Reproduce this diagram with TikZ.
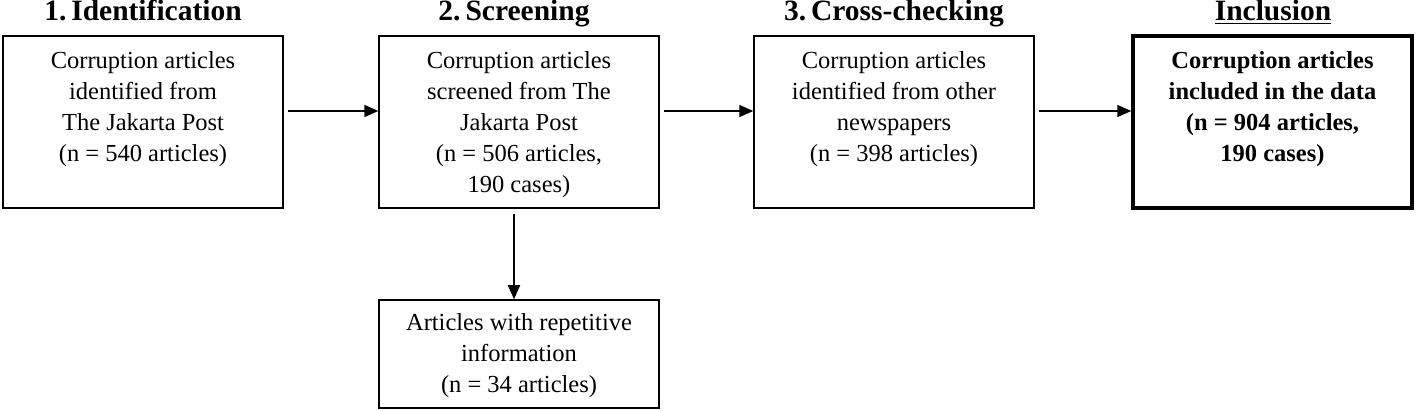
\documentclass[tikz,border=0pt]{standalone}
\usepackage{fontspec}
\setmainfont{Liberation Serif}
\usetikzlibrary{arrows.meta}
\begin{document}
\begin{tikzpicture}[x=1pt,y=-1pt,
  box/.style={draw, line width=1.5pt, minimum width=280pt, minimum height=172pt, inner sep=0pt},
  txt/.style={anchor=north, align=center, inner sep=0pt, font=\fontsize{24.5}{31}\selectfont},
  title/.style={anchor=base, inner sep=0pt, font=\fontsize{29.5}{32}\selectfont\bfseries},
  arr/.style={line width=1.6pt, -{Triangle[length=14pt,width=12pt]}}]
\useasboundingbox (0,0) rectangle (1416,411);
% titles
\node[title] (h1) at (143,21) {1.\,Identification};
\node[title] (h2) at (514,21) {2.\,Screening};
\node[title] (h3) at (894,21) {3.\,Cross-checking};
\node[title] (h4) at (1273,21) {\underline{Inclusion}};
% boxes
\node[box] (b1) at (143,122) {};
\node[box] (b2) at (519,122) {};
\node[box] (b3) at (894,122) {};
\node[box, line width=3.5pt, minimum width=279pt] (b4) at (1272.5,122) {};
\node[box, minimum height=108pt] (b5) at (519,354) {};
% texts
\node[txt] (t1) at (143,51) {Corruption articles\\identified from\\The Jakarta Post\\(n = 540 articles)};
\node[txt] (t2) at (519,51) {Corruption articles\\screened from The\\Jakarta Post\\(n = 506 articles,\\190 cases)};
\node[txt] (t3) at (894,51) {Corruption articles\\identified from other\\newspapers\\(n = 398 articles)};
\node[txt, font=\fontsize{24.5}{31}\selectfont\bfseries] (t4) at (1272.5,51) {Corruption articles\\included in the data\\(n = 904 articles,\\190 cases)};
\node[txt] (t5) at (519,313) {Articles with repetitive\\information\\(n = 34 articles)};
% arrows
\draw[arr] ([xshift=4pt,yshift=11pt]b1.east) -- ([yshift=11pt]b2.west);
\draw[arr] ([xshift=4pt,yshift=11pt]b2.east) -- ([yshift=11pt]b3.west);
\draw[arr] ([xshift=4pt,yshift=11pt]b3.east) -- ([yshift=11pt]b4.west);
\draw[arr] ([xshift=-5pt,yshift=-5pt]b2.south) -- ([xshift=-5pt]b5.north);
\end{tikzpicture}
\end{document}
